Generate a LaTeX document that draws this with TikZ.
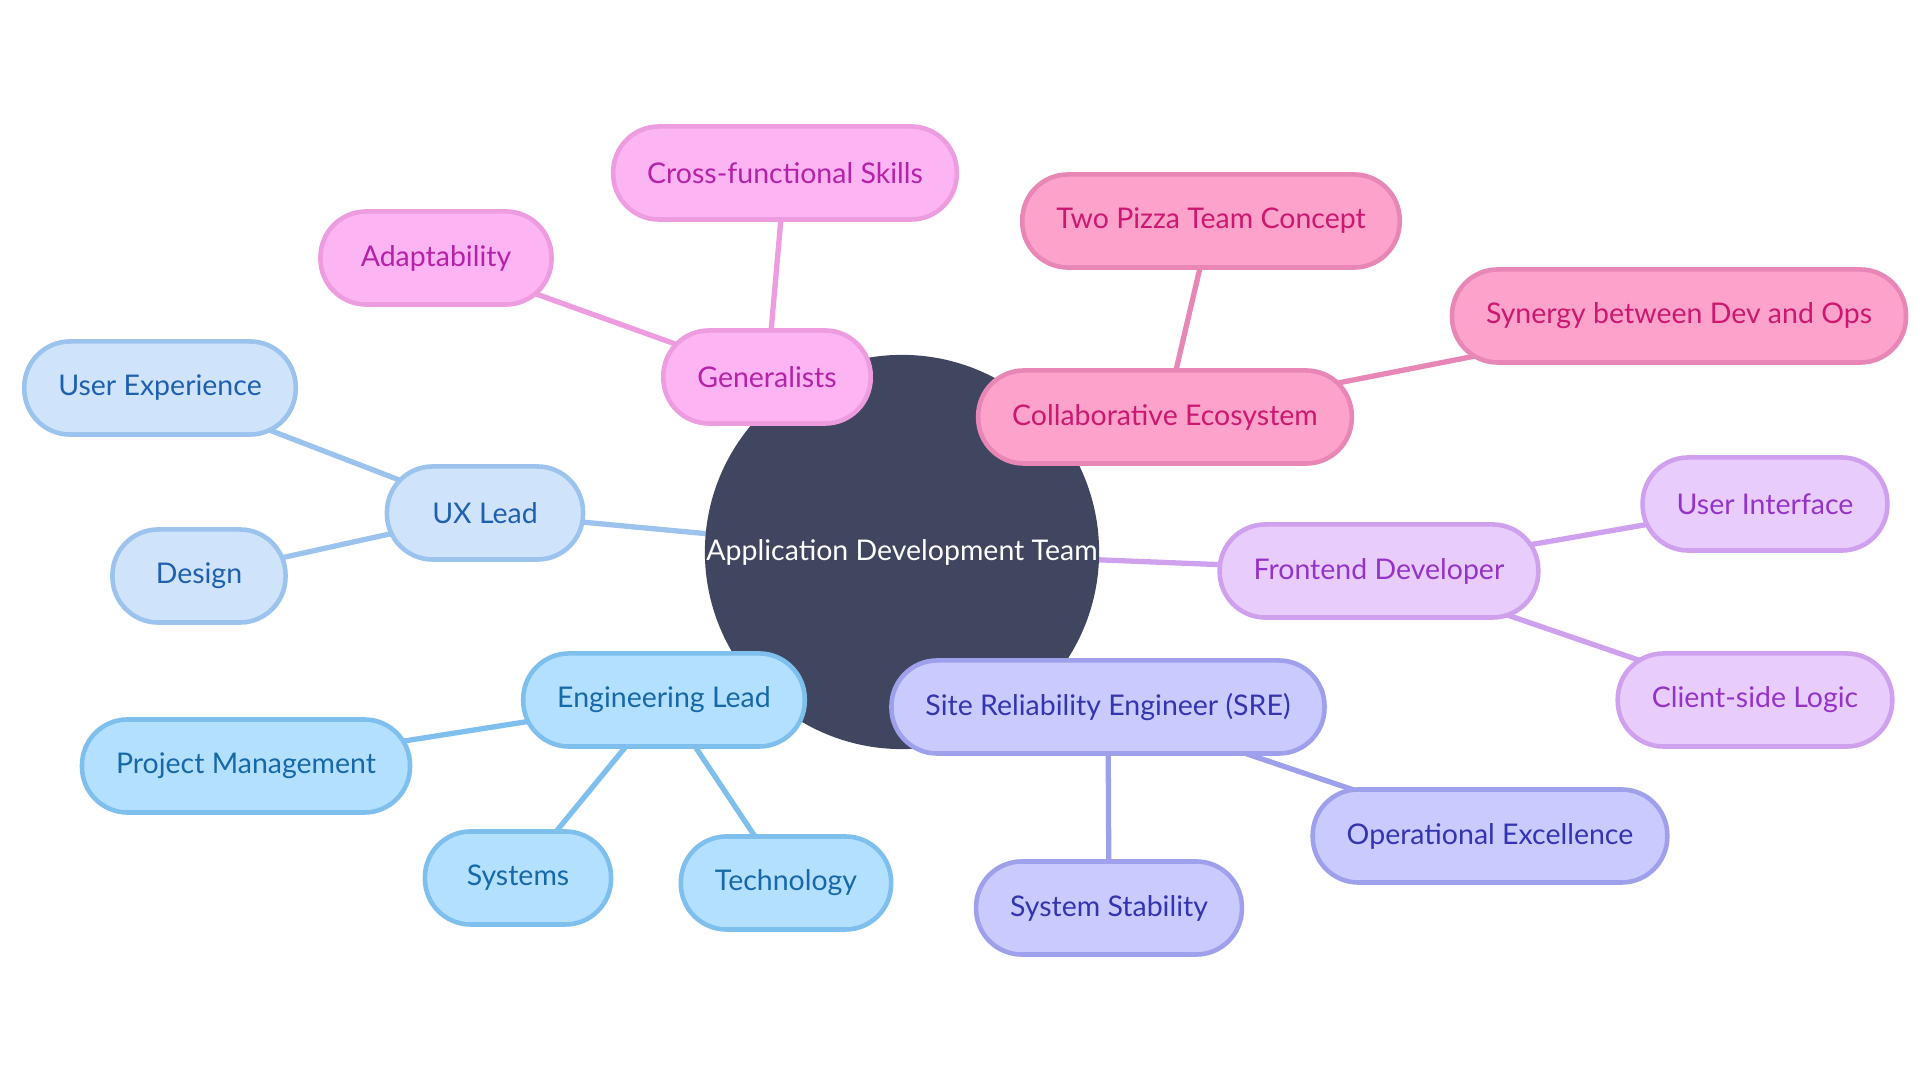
\documentclass[tikz,border=0pt]{standalone}
\usepackage{fontspec}
\setmainfont{Lato}
\usepackage{tikz}
\usetikzlibrary{backgrounds}
\definecolor{rootfill}{HTML}{404660}
\definecolor{genfill}{HTML}{FCB4F3}
\definecolor{gendraw}{HTML}{EE9CE0}
\definecolor{gentext}{HTML}{B522A8}
\definecolor{colfill}{HTML}{FCA2CB}
\definecolor{coldraw}{HTML}{E886B5}
\definecolor{coltext}{HTML}{CC1870}
\definecolor{uxfill}{HTML}{CFE3FA}
\definecolor{uxdraw}{HTML}{9CC3EE}
\definecolor{uxtext}{HTML}{1F5FB0}
\definecolor{engfill}{HTML}{B3E0FF}
\definecolor{engdraw}{HTML}{7EBFEE}
\definecolor{engtext}{HTML}{1768A8}
\definecolor{fefill}{HTML}{E8CCFC}
\definecolor{fedraw}{HTML}{CFA0EE}
\definecolor{fetext}{HTML}{9333C8}
\definecolor{srefill}{HTML}{C9CAFD}
\definecolor{sredraw}{HTML}{9FA0EC}
\definecolor{sretext}{HTML}{3434B0}

\begin{document}
\begin{tikzpicture}[
  x=0.01cm, y=-0.01cm,
  pill/.style={draw, line width=1.3pt, rounded corners=13pt, minimum height=0.93cm, inner xsep=0.34cm, font=\fontsize{8.1}{10}\selectfont},
  gen/.style={pill, fill=genfill, draw=gendraw, text=gentext},
  col/.style={pill, fill=colfill, draw=coldraw, text=coltext},
  ux/.style={pill, fill=uxfill, draw=uxdraw, text=uxtext},
  eng/.style={pill, fill=engfill, draw=engdraw, text=engtext},
  fe/.style={pill, fill=fefill, draw=fedraw, text=fetext},
  sre/.style={pill, fill=srefill, draw=sredraw, text=sretext},
  link/.style={line width=1.5pt}
]
  \useasboundingbox (0,0) rectangle (1920,1080);

  \node[circle, fill=rootfill, text=white, minimum size=3.94cm, inner sep=0pt, font=\fontsize{8.1}{10}\selectfont] (root) at (902,552) {Application Development Team};

  \node[gen] (gen) at (767,377) {Generalists};
  \node[gen] (skills) at (785,173) {Cross-functional Skills};
  \node[gen, minimum width=2.31cm] (adapt) at (436,258) {Adaptability};

  \node[col] (eco) at (1165,417) {Collaborative Ecosystem};
  \node[col] (pizza) at (1211,221) {Two Pizza Team Concept};
  \node[col] (synergy) at (1679,316) {Synergy between Dev and Ops};

  \node[ux, minimum width=1.96cm] (ux) at (485,513) {UX Lead};
  \node[ux] (uxp) at (160,388) {User Experience};
  \node[ux, minimum width=1.73cm] (design) at (199,576) {Design};

  \node[fe] (fe) at (1379,571) {Frontend Developer};
  \node[fe] (ui) at (1765,504) {User Interface};
  \node[fe] (logic) at (1755,700) {Client-side Logic};

  \node[eng] (eng) at (664,700) {Engineering Lead};
  \node[eng] (pm) at (246,766) {Project Management};
  \node[eng, minimum width=1.86cm] (sys) at (518,878) {Systems};
  \node[eng] (tech) at (786,883) {Technology};

  \node[sre] (sre) at (1108,707) {Site Reliability Engineer (SRE)};
  \node[sre] (opex) at (1490,836) {Operational Excellence};
  \node[sre] (stab) at (1109,908) {System Stability};

  \begin{scope}[on background layer]
    \fill[white] (0,0) rectangle (1920,1080);
    \draw[link, gendraw] (root.center) -- (gen.center) -- (skills.center) (gen.center) -- (adapt.center);
    \draw[link, coldraw] (root.center) -- (eco.center) -- (pizza.center) (eco.center) -- (synergy.center);
    \draw[link, uxdraw] (root.center) -- (ux.center) -- (uxp.center) (ux.center) -- (design.center);
    \draw[link, fedraw] (root.center) -- (fe.center) -- (ui.center) (fe.center) -- (logic.center);
    \draw[link, engdraw] (root.center) -- (eng.center) -- (pm.center) (eng.center) -- (sys.center) (eng.center) -- (tech.center);
    \draw[link, sredraw] (root.center) -- (sre.center) -- (opex.center) (sre.center) -- (stab.center);
  \end{scope}
\end{tikzpicture}
\end{document}
